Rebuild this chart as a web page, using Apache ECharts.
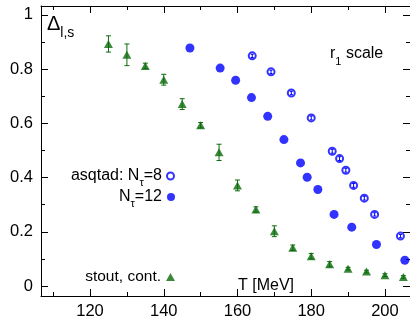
<!DOCTYPE html>
<html>
<head>
<meta charset="utf-8">
<script src="https://cdn.jsdelivr.net/npm/echarts@6/dist/echarts.min.js"></script>
<style>
html, body { margin: 0; padding: 0; background: #fff; }
#main { width: 410px; height: 320px; }
</style>
</head>
<body>
<div id="main"></div>
<script>
// stout, continuum
var stoutT   = [125, 130, 135, 140, 145, 150, 155, 160, 165, 170, 175, 180, 185, 190, 195, 200, 205];
var stoutD   = [0.893, 0.853, 0.812, 0.761, 0.671, 0.593, 0.493, 0.371, 0.282, 0.202, 0.141, 0.110, 0.080, 0.064, 0.053, 0.040, 0.033];
var stoutErr = [0.03, 0.04, 0.01, 0.02, 0.02, 0.01, 0.03, 0.02, 0.01, 0.02, 0.01, 0.01, 0.01, 0.005, 0.005, 0.005, 0.005];
// asqtad Ntau=8
var n8T   = [164.0, 169.1, 174.6, 180.0, 185.7, 187.7, 189.4, 191.5, 194.4, 197.2, 204.2];
var n8D   = [0.849, 0.790, 0.712, 0.620, 0.497, 0.470, 0.427, 0.371, 0.324, 0.264, 0.184];
var n8Err = [0.006, 0.006, 0.006, 0.007, 0.007, 0.007, 0.007, 0.007, 0.007, 0.006, 0.006];
// asqtad Ntau=12
var n12T = [147.1, 155.3, 159.5, 163.8, 168.2, 172.6, 177.1, 178.9, 181.8, 186.2, 191.0, 197.7, 205.4];
var n12D = [0.878, 0.804, 0.759, 0.695, 0.626, 0.540, 0.454, 0.401, 0.356, 0.264, 0.217, 0.153, 0.095];

var xMajor = [120, 140, 160, 180, 200];
var xMinor = [110, 130, 150, 170, 190];
var yMajor = [0, 0.2, 0.4, 0.6, 0.8, 1];
var yMinor = [0.1, 0.3, 0.5, 0.7, 0.9];

var green = '#0b6b0b';
var blue = '#0000ff';
var font = 'Liberation Sans, Helvetica, Arial, sans-serif';

function zip(a, b, c) {
    var out = [];
    for (var i = 0; i < a.length; i++) out.push(c ? [a[i], b[i], c[i]] : [a[i], b[i]]);
    return out;
}

function axis(kind, pos, ticks, len, labels, showLine) {
    var ax = {
        type: 'value',
        position: pos,
        min: kind == 'x' ? 106.7 : -0.037,
        max: kind == 'x' ? 206.8 : 1.033,
        splitLine: { show: false },
        axisLine: { show: showLine, onZero: false, lineStyle: { color: '#000', width: 1 } },
        axisTick: { show: true, inside: true, length: len, customValues: ticks, lineStyle: { color: '#000', width: 1 } },
        axisLabel: { show: false }
    };
    if (labels) {
        ax.axisLabel = {
            show: true, customValues: labels, color: '#000', fontSize: 16.5, fontFamily: font,
            margin: kind == 'x' ? 7 : 8,
            formatter: function (v) { return String(Math.round(v * 10) / 10); }
        };
    }
    return ax;
}

function errRender(color, cap) {
    return function (params, api) {
        var x = api.value(0), y = api.value(1), e = api.value(2);
        var lo = api.coord([x, y - e]);
        var hi = api.coord([x, y + e]);
        var st = { stroke: color, lineWidth: 1 };
        return {
            type: 'group',
            children: [
                { type: 'line', shape: { x1: lo[0], y1: lo[1], x2: hi[0], y2: hi[1] }, style: st },
                { type: 'line', shape: { x1: lo[0] - cap, y1: lo[1], x2: lo[0] + cap, y2: lo[1] }, style: st },
                { type: 'line', shape: { x1: hi[0] - cap, y1: hi[1], x2: hi[0] + cap, y2: hi[1] }, style: st }
            ]
        };
    };
}

var richSub = {
    n: { fontSize: 16, fontFamily: font, color: '#000' },
    s: { fontSize: 11, fontFamily: font, color: '#000', verticalAlign: 'bottom', padding: [0, 0, -4, 0] }
};

var myChart = echarts.init(document.getElementById('main'));
var option = {
    animation: false,
    backgroundColor: '#fff',
    grid: { left: 41, right: -1, top: 6, bottom: 23, containLabel: false },
    xAxis: [
        axis('x', 'bottom', xMajor, 7, xMajor, true),
        axis('x', 'bottom', xMinor, 4, null, false),
        axis('x', 'top', xMajor, 7, null, true),
        axis('x', 'top', xMinor, 4, null, false)
    ],
    yAxis: [
        axis('y', 'left', yMajor, 7, yMajor, true),
        axis('y', 'left', yMinor, 4, null, false),
        axis('y', 'right', yMajor, 7, null, true),
        axis('y', 'right', yMinor, 4, null, false)
    ],
    legend: [
        {
            data: ['n8'], align: 'right', right: 230, top: 163, itemWidth: 7, itemHeight: 7,
            itemStyle: { borderWidth: 1.2 },
            formatter: function () { return '{n|asqtad: N}{s|τ}{n|=8}'; },
            textStyle: { rich: richSub }
        },
        {
            data: ['n12'], align: 'right', right: 230, top: 184, itemWidth: 8, itemHeight: 8,
            formatter: function () { return '{n|N}{s|τ}{n|=12}'; },
            textStyle: { rich: richSub }
        },
        {
            data: ['stout'], align: 'right', right: 230, top: 264, itemWidth: 9, itemHeight: 8,
            formatter: function () { return 'stout, cont.'; },
            textStyle: { fontSize: 15.5, fontFamily: font, color: '#000' }
        }
    ],
    graphic: [
        {
            type: 'text', left: 47, top: 14,
            style: {
                text: '{d|Δ}{s|l,s}',
                rich: {
                    d: { fontSize: 20, fontFamily: font, fill: '#000' },
                    s: { fontSize: 14, fontFamily: font, fill: '#000', verticalAlign: 'bottom', padding: [0, 0, -6, 0] }
                }
            }
        },
        {
            type: 'text', left: 330, top: 46,
            style: {
                text: '{n|r}{s|1}{n| scale}',
                rich: {
                    n: { fontSize: 16, fontFamily: font, fill: '#000' },
                    s: { fontSize: 11, fontFamily: font, fill: '#000', verticalAlign: 'bottom', padding: [0, 0, -5, 0] }
                }
            }
        },
        {
            type: 'text', left: 238, top: 278,
            style: { text: 'T [MeV]', fontSize: 16, fontFamily: font, fill: '#000' }
        }
    ],
    series: [
        {
            type: 'custom', name: 'stoutErr', renderItem: errRender(green, 2.5),
            data: zip(stoutT, stoutD, stoutErr), z: 2, silent: true
        },
        {
            name: 'stout', type: 'scatter', symbol: 'triangle', symbolSize: [9, 8],
            itemStyle: { color: green }, data: zip(stoutT, stoutD), z: 3
        },
        {
            name: 'n8', type: 'scatter', symbol: 'emptyCircle', symbolSize: 7,
            itemStyle: { color: blue, borderColor: blue, borderWidth: 1.2 }, data: zip(n8T, n8D), z: 3
        },
        {
            type: 'custom', name: 'n8Err', renderItem: errRender(blue, 1.5),
            data: zip(n8T, n8D, n8Err), z: 4, silent: true
        },
        {
            name: 'n12', type: 'scatter', symbol: 'circle', symbolSize: 9,
            itemStyle: { color: blue }, data: zip(n12T, n12D), z: 3
        }
    ]
};
myChart.setOption(option);
</script>
</body>
</html>
